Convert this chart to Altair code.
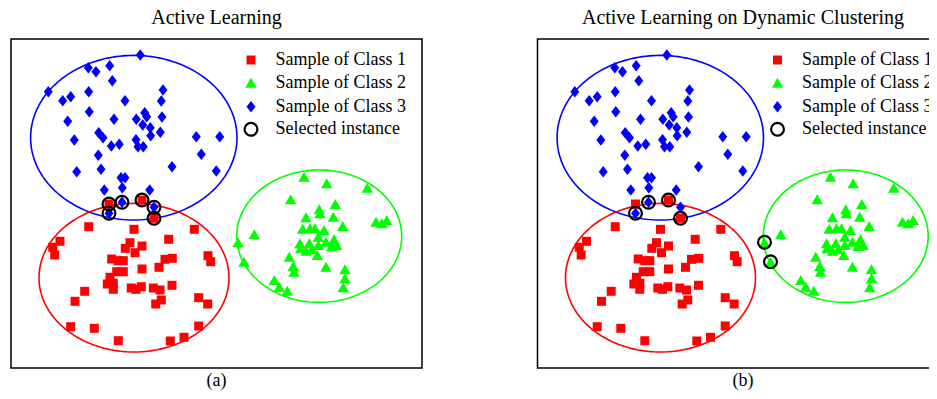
import altair as alt
import pandas as pd

# Coordinates are pixel offsets inside each panel frame (x to the right, y downward).
# Class 1 (red squares)
c1_x = [77.7, 123, 183.3, 49, 41.7, 43.7, 157.7, 119, 114.3, 131, 124, 197, 199.7, 100.7, 107.3, 112.3,
        154, 161.3, 131, 148, 105.7, 112.3, 99, 96.3, 102.3, 102.3, 120.3, 125, 130.3, 142.3, 149, 161,
        73.7, 64, 150.3, 144.7, 187.7, 196.7, 59.7, 83.3, 187.7, 107.3, 159.3, 173, 98, 131, 143]
c1_y = [187.7, 190.3, 190.3, 202.3, 208.3, 216, 200.3, 203.7, 209.3, 207, 213.7, 216.7, 222.7, 220, 221.7, 221.7,
        220.3, 219.3, 230, 228.3, 232.7, 232.7, 238.3, 245, 244.3, 250.3, 249, 250.3, 247.7, 249, 251, 246.3,
        252.3, 262.3, 261, 265, 258.7, 265, 287.7, 289.3, 287, 301.7, 302, 298.3, 165, 161, 179.3]

# Class 2 (green triangles)
c2_x = [293, 315.7, 356.3, 279.7, 324.3, 308.3, 309, 295, 322.3, 331.7, 291.7, 299, 304, 313, 365, 370.7,
        375.7, 243.3, 227, 307.3, 315, 323, 325.7, 320.7, 289, 298.3, 307.3, 289.7, 295, 300.7, 306.3, 278.3,
        233, 282.3, 283, 315, 334, 334, 332.3, 263.3, 268.3, 276.3]
c2_y = [137.7, 144.3, 148.7, 160.3, 165, 170.3, 174.3, 178.3, 177.7, 187, 189.7, 189.3, 189.3, 191, 182.7, 184.3,
        181, 195.3, 203.3, 197.7, 202.7, 200.3, 206, 207, 204.3, 204.3, 206, 209.3, 211.7, 210.3, 216, 217.7,
        222.7, 227, 232.7, 227.7, 230.3, 239.3, 248.3, 241, 247.7, 251.7]

# Class 3 (blue diamonds)
c3_x = [129.3, 77.3, 85, 98.7, 101.3, 37.3, 51.7, 59.7, 77.7, 152, 150.3, 114, 78.3, 56.7, 103, 125.3,
        133.7, 135.7, 151, 131.7, 139.3, 139.7, 149.3, 87.7, 92, 63.3, 100.3, 108.3, 125, 127, 132.3, 185.3,
        208.7, 190.3, 87.3, 161, 90, 65.7, 205.3, 110, 114, 111.3, 93.3, 138.7, 111, 143, 98]
c3_y = [16, 28.7, 32.7, 26.7, 41.7, 52.7, 61.7, 57.7, 52.7, 51, 62, 61.7, 72.7, 82.3, 80.3, 80.3,
        73.7, 77.7, 78, 86, 88.7, 96.7, 93.3, 93.7, 98.7, 101, 107, 105.3, 100.7, 107.7, 107.7, 97.7,
        97.7, 115.3, 116.3, 127.7, 130.3, 132.7, 132, 138.7, 138.7, 148.7, 151, 151, 163.3, 168.3, 174.3]

# Selected instances
sel_a_x = [98, 111, 131, 143, 98, 143]
sel_a_y = [165, 163.3, 161, 168.3, 174.3, 179.3]
sel_b_x = [111, 131, 98, 143, 227, 233]
sel_b_y = [163.3, 161, 174.3, 179.3, 203.3, 222.7]

# Cluster ellipses: centre and radii
ell_cx = [122.8, 123, 308.2]
ell_cy = [98.7, 238.7, 197.2]
ell_rx = [103.2, 95, 82.5]
ell_ry = [82.3, 74.3, 66.2]
ell_col = ["#0000ff", "#ff0000", "#00ff00"]

legend_labels = ["Sample of Class 1", "Sample of Class 2", "Sample of Class 3", "Selected instance"]
legend_y = [21, 43.7, 67.7, 90.3]
titles = ["Active Learning", "Active Learning on Dynamic Clustering"]
captions = ["(a)", "(b)"]

FRAME_W, FRAME_H = 411, 329
Y_DOMAIN = [-31, 352]
DIAMOND = "M0,-1.15L0.9,0L0,1.15L-0.9,0Z"
FONT = "Liberation Serif"


def panel(title, caption, sel_x, sel_y, x_domain, width):
    xs = alt.Scale(domain=x_domain, nice=False, zero=False)
    ys = alt.Scale(domain=Y_DOMAIN, nice=False, zero=False, reverse=True)

    def enc(xf="x", yf="y"):
        return dict(x=alt.X(f"{xf}:Q", scale=xs, axis=None),
                    y=alt.Y(f"{yf}:Q", scale=ys, axis=None))

    layers = []
    frame = pd.DataFrame({"x": [0], "x2": [FRAME_W], "y": [0], "y2": [FRAME_H]})
    layers.append(alt.Chart(frame).mark_rect(fill="transparent", stroke="black", strokeWidth=1.5, clip=True)
                  .encode(**enc(), x2="x2:Q", y2="y2:Q"))
    for cx, cy, rx, ry, col in zip(ell_cx, ell_cy, ell_rx, ell_ry, ell_col):
        layers.append(
            alt.Chart(alt.sequence(0, 362, 2, as_="t"))
            .transform_calculate(ex=f"{cx} + {rx} * cos(datum.t * PI / 180)",
                                 ey=f"{cy} + {ry} * sin(datum.t * PI / 180)")
            .mark_line(color=col, strokeWidth=1.6, clip=True)
            .encode(**enc("ex", "ey"), order="t:Q"))
    for xs_, ys_, shape, col, size in [(c1_x, c1_y, "square", "#ff0000", 81),
                                      (c2_x, c2_y, "triangle-up", "#00ff00", 130),
                                      (c3_x, c3_y, DIAMOND, "#0000ff", 100)]:
        layers.append(alt.Chart(pd.DataFrame({"x": xs_, "y": ys_}))
                      .mark_point(shape=shape, filled=True, color=col, size=size, opacity=1, clip=True)
                      .encode(**enc()))
    layers.append(alt.Chart(pd.DataFrame({"x": sel_x, "y": sel_y}))
                  .mark_point(shape="circle", filled=False, color="black", size=165, strokeWidth=2.2,
                              opacity=1, clip=True)
                  .encode(**enc()))
    # legend
    specs = [("square", "#ff0000", 81, True), ("triangle-up", "#00ff00", 130, True),
             (DIAMOND, "#0000ff", 100, True), ("circle", "black", 165, False)]
    for (shape, col, size, filled), ly in zip(specs, legend_y):
        m = alt.Chart(pd.DataFrame({"x": [240], "y": [ly]}))
        if filled:
            m = m.mark_point(shape=shape, filled=True, color=col, size=size, opacity=1, clip=True)
        else:
            m = m.mark_point(shape=shape, filled=False, color=col, size=size, strokeWidth=2.2,
                             opacity=1, clip=True)
        layers.append(m.encode(**enc()))
    layers.append(alt.Chart(pd.DataFrame({"x": [264.5] * 4, "y": legend_y, "t": legend_labels}))
                  .mark_text(align="left", baseline="middle", font=FONT, fontSize=18, color="black", clip=True)
                  .encode(**enc(), text="t:N"))
    layers.append(alt.Chart(pd.DataFrame({"x": [205.5], "y": [-15], "t": [title]}))
                  .mark_text(align="center", baseline="alphabetic", font=FONT, fontSize=20, color="black")
                  .encode(**enc(), text="t:N"))
    layers.append(alt.Chart(pd.DataFrame({"x": [205.5], "y": [347], "t": [caption]}))
                  .mark_text(align="center", baseline="alphabetic", font=FONT, fontSize=18, color="black")
                  .encode(**enc(), text="t:N"))
    return alt.layer(*layers).properties(width=width, height=Y_DOMAIN[1] - Y_DOMAIN[0])


pa = panel(titles[0], captions[0], sel_a_x, sel_a_y, [-3, 419], 422)
pb = panel(titles[1], captions[1], sel_b_x, sel_b_y, [-7.5, 391.5], 399)

chart = (alt.hconcat(pa, pb, spacing=100)
         .properties(padding=0)
         .configure_view(stroke=None))

chart.save("out.html", embed_options={"renderer": "svg", "actions": False})
